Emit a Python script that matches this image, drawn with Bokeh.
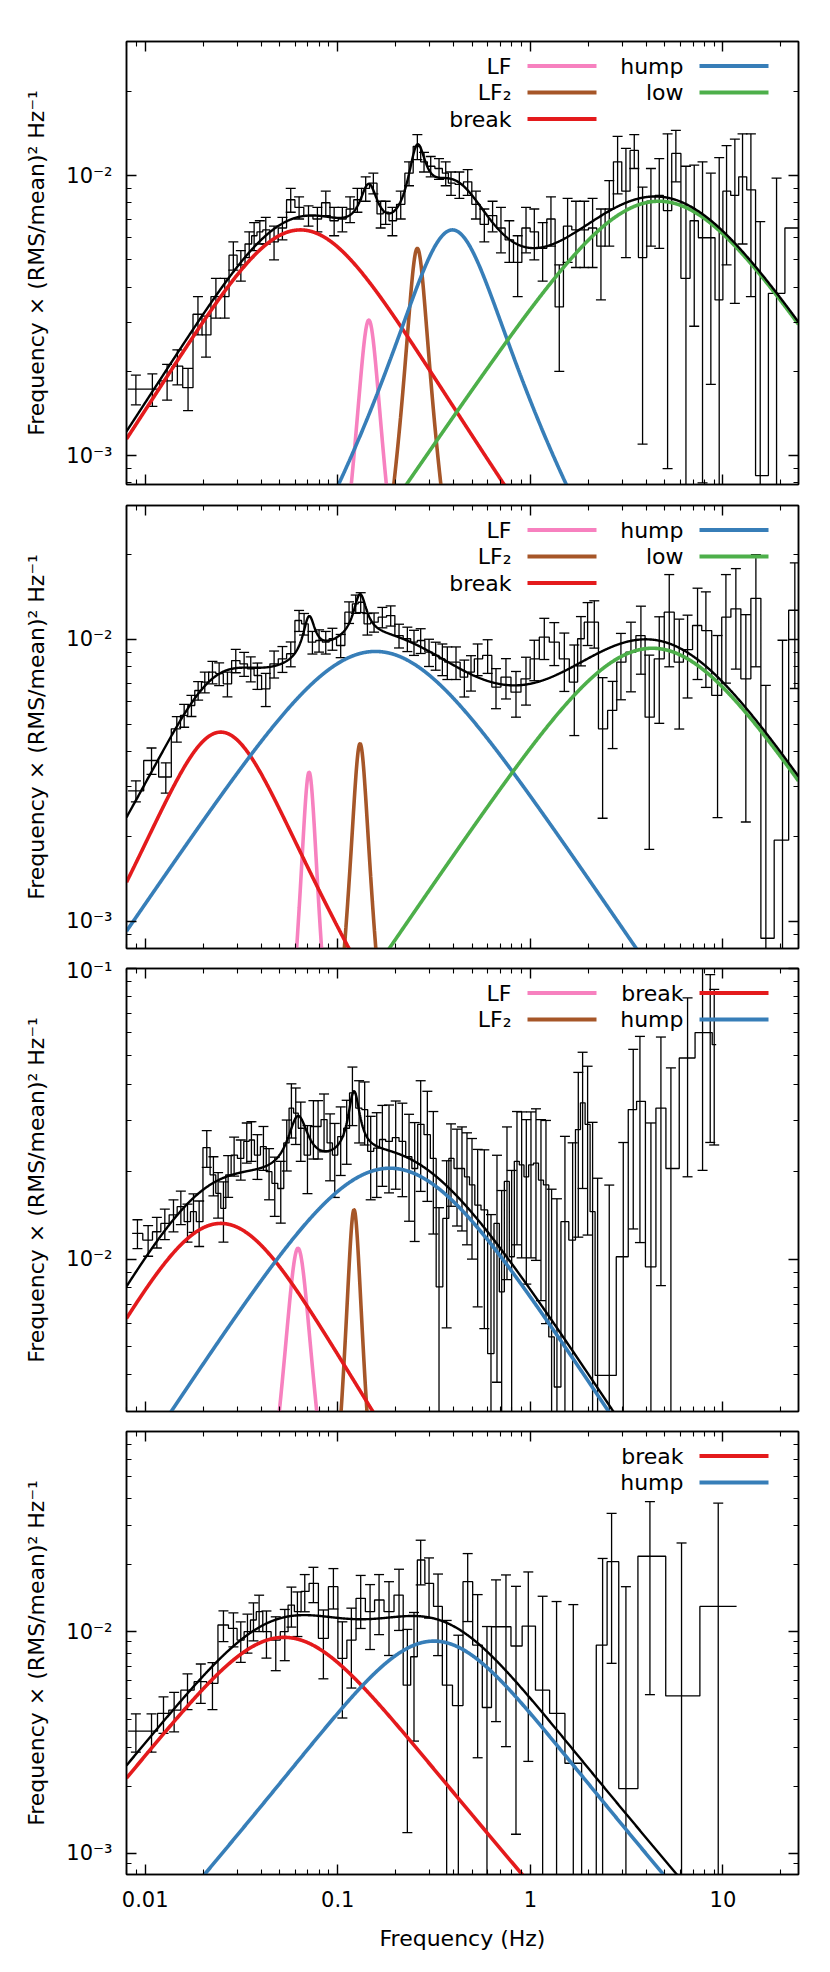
import numpy as np
from bokeh.plotting import figure
from bokeh.layouts import column
from bokeh.models import (Range1d, LogAxis, FixedTicker, CustomJSTickFormatter,
                          Label, BoxAnnotation)
from bokeh.embed import file_html
from bokeh.resources import INLINE

# ---------------- data: panel 1 ----------------
P1_FREQ = [0.00895, 0.0109, 0.0130, 0.0147, 0.0167, 0.0188, 0.0207, 0.0233, 0.0259, 0.0287,
           0.0314, 0.0347, 0.0368, 0.0394, 0.0423, 0.0467, 0.0516, 0.0570, 0.0630, 0.0705,
           0.0784, 0.0867, 0.0958, 0.1057, 0.1159, 0.1265, 0.1397, 0.1531, 0.1671, 0.1774,
           0.1922, 0.2124, 0.2345, 0.2591, 0.2806, 0.304, 0.3357, 0.3637, 0.3875, 0.428,
           0.473, 0.522, 0.577, 0.637, 0.704, 0.778, 0.860, 0.950, 1.049, 1.159,
           1.28, 1.414, 1.562, 1.726, 1.907, 2.106, 2.327, 2.571, 2.84, 3.137,
           3.466, 3.828, 4.23, 4.673, 5.163, 5.70, 6.43, 7.10, 7.84, 8.66,
           9.57, 10.45, 11.54, 12.65, 13.98, 15.63, 19.0, 23.2]
P1_POWER = [0.00173, 0.00173, 0.00185, 0.00209, 0.00175, 0.0032, 0.0027, 0.0037, 0.0037, 0.0052,
            0.0048, 0.0057, 0.0061, 0.0063, 0.0064, 0.0058, 0.0065, 0.0082, 0.0077, 0.0072,
            0.0070, 0.0080, 0.0069, 0.0070, 0.0076, 0.0082, 0.0090, 0.0094, 0.0073, 0.0074,
            0.0069, 0.0079, 0.0102, 0.0127, 0.0112, 0.0108, 0.0106, 0.0102, 0.0094, 0.0093,
            0.0095, 0.0079, 0.0067, 0.0072, 0.0065, 0.0059, 0.0049, 0.0065, 0.0063, 0.0055,
            0.0070, 0.0034, 0.0066, 0.0064, 0.0064, 0.0065, 0.0056, 0.0076, 0.0112, 0.0088,
            0.0123, 0.0051, 0.0081, 0.0085, 0.0075, 0.0120, 0.0043, 0.0069, 0.0060, 0.0060,
            0.0036, 0.0088, 0.0085, 0.0099, 0.0089, 0.00085, 0.0038, 0.0065]
P1_ERR = [0.00021, 0.00023, 0.00027, 0.0003, 0.0003, 0.0005, 0.00045, 0.0006, 0.0006, 0.0006,
          0.0006, 0.0006, 0.0007, 0.0006, 0.0007, 0.0008, 0.0006, 0.0008, 0.0007, 0.0006,
          0.0007, 0.0008, 0.0008, 0.0007, 0.0008, 0.0008, 0.0009, 0.0008, 0.0008, 0.0007,
          0.0008, 0.0009, 0.0010, 0.0013, 0.0009, 0.0009, 0.0009, 0.0010, 0.0009, 0.0010,
          0.0010, 0.0009, 0.0009, 0.0009, 0.0012, 0.0010, 0.0012, 0.0012, 0.0013, 0.0013,
          0.0014, 0.0014, 0.0017, 0.0017, 0.0017, 0.0018, 0.0020, 0.0020, 0.0026, 0.0037,
          0.0017, 0.0040, 0.0025, 0.0030, 0.0066, 0.0025, 0.0065, 0.0040, 0.0052, 0.0042,
          0.0080, 0.0040, 0.0050, 0.0042, 0.0052, 0.0060, 0.0060, 0.0]
P1_COMP_NAMES = ["LF", "LF₂", "break", "hump", "low"]
P1_COMP_FREQ = [0.145, 0.259, 0.064, 0.394, 4.65]
P1_COMP_PEAK = [0.00305, 0.0055, 0.0064, 0.0064, 0.0081]
P1_COMP_Q = [4.0, 4.3, 0.175, 0.8, 0.0]

# ---------------- data: panel 2 ----------------
P2_FREQ = [0.00895, 0.01079, 0.0128, 0.0146, 0.01594, 0.01739, 0.01884, 0.0204, 0.02236, 0.02422,
           0.02675, 0.02955, 0.03265, 0.03535, 0.03828, 0.04229, 0.04673, 0.05162, 0.05703, 0.06299,
           0.06688, 0.07388, 0.08, 0.08665, 0.09383, 0.1036, 0.1145, 0.124, 0.1316, 0.1426,
           0.1544, 0.1705, 0.1884, 0.2081, 0.2299, 0.2489, 0.2696, 0.2979, 0.3226, 0.3494,
           0.3708, 0.4113, 0.4544, 0.492, 0.5329, 0.6005, 0.6634, 0.7474, 0.8426, 0.9495,
           1.049, 1.182, 1.332, 1.502, 1.692, 1.832, 1.984, 2.149, 2.374, 2.675,
           2.955, 3.331, 3.753, 4.147, 4.673, 5.266, 5.935, 6.556, 7.387, 8.162,
           9.383, 10.37, 11.68, 13.16, 14.84, 16.72, 20.40, 23.64]
P2_POWER = [0.0029, 0.00372, 0.00325, 0.00482, 0.00538, 0.00583, 0.00659, 0.00706, 0.00766, 0.00756,
            0.00696, 0.00842, 0.0082, 0.00787, 0.00745, 0.00668, 0.0082, 0.00854, 0.0089, 0.01168,
            0.01137, 0.00978, 0.00992, 0.00978, 0.01006, 0.00952, 0.0125, 0.01338, 0.01356, 0.01137,
            0.01152, 0.012, 0.01216, 0.01033, 0.01006, 0.00978, 0.00992, 0.00902, 0.00878, 0.00854,
            0.00831, 0.00831, 0.00735, 0.00766, 0.00854, 0.00878, 0.00678, 0.00735, 0.0065, 0.00725,
            0.00854, 0.01019, 0.00978, 0.00854, 0.00706, 0.01006, 0.01152, 0.01152, 0.00482, 0.0056,
            0.00831, 0.00902, 0.01033, 0.0053, 0.00854, 0.0125, 0.00831, 0.0092, 0.01121, 0.01076,
            0.00633, 0.012, 0.01285, 0.00725, 0.014, 0.00087, 0.00194, 0.0127]
P2_ERR = [0.00025, 0.0004, 0.0004, 0.0005, 0.0005, 0.0005, 0.0005, 0.0006, 0.0007, 0.0007,
          0.0007, 0.0008, 0.0008, 0.0008, 0.0008, 0.0009, 0.0009, 0.0009, 0.0009, 0.0010,
          0.0010, 0.0009, 0.0009, 0.0009, 0.0009, 0.0009, 0.0011, 0.0010, 0.0011, 0.0010,
          0.0009, 0.0010, 0.0010, 0.0010, 0.0010, 0.0010, 0.0010, 0.0010, 0.0010, 0.0011,
          0.0011, 0.0011, 0.0011, 0.0011, 0.0011, 0.0012, 0.0011, 0.0012, 0.0012, 0.0014,
          0.0014, 0.0017, 0.0017, 0.0020, 0.0025, 0.0020, 0.0020, 0.0022, 0.0025, 0.0015,
          0.0022, 0.0025, 0.0028, 0.0035, 0.0035, 0.0045, 0.0035, 0.0030, 0.0040, 0.0040,
          0.0040, 0.0050, 0.0050, 0.0050, 0.0060, 0.0060, 0.0080, 0.0060]
P2_COMP_NAMES = ["LF", "LF₂", "break", "hump", "low"]
P2_COMP_FREQ = [0.071, 0.1306, 0.0247, 0.157, 4.30]
P2_COMP_PEAK = [0.00338, 0.00427, 0.00469, 0.00907, 0.00931]
P2_COMP_Q = [6.0, 5.5, 0.5, 0.0, 0.0]

# ---------------- data: panel 3 ----------------
P3_FREQ = [0.00912, 0.01036, 0.0115, 0.01265, 0.01403, 0.01532, 0.01659, 0.01782, 0.01907, 0.02089,
           0.02262, 0.02392, 0.0255, 0.02697, 0.02897, 0.03137, 0.0337, 0.03563, 0.03828, 0.04113,
           0.044, 0.0471, 0.0506, 0.05436, 0.05747, 0.06053, 0.06427, 0.06963, 0.07476, 0.07905,
           0.08491, 0.09126, 0.0965, 0.1036, 0.1113, 0.1192, 0.1291, 0.138, 0.1483, 0.1594,
           0.1705, 0.1846, 0.2, 0.2166, 0.2346, 0.251, 0.2696, 0.292, 0.3136, 0.3357, 0.3678,
           0.3875, 0.4163, 0.4417, 0.469, 0.498, 0.5329, 0.577, 0.6249, 0.6714, 0.71,
           0.7567, 0.8001, 0.8527, 0.9016, 0.9533, 1.008, 1.070, 1.136, 1.206, 1.29,
           1.375, 1.513, 1.659, 1.775, 1.869, 1.984, 2.106, 2.236, 2.570, 3.039,
           3.424, 3.709, 4.23, 4.767, 5.372, 6.556, 7.843, 8.596, 9.016]
P3_POWER = [0.01226, 0.01163, 0.01242, 0.01327, 0.0142, 0.01515, 0.01345, 0.01456, 0.01345, 0.0242,
            0.0195, 0.01684, 0.01495, 0.0195, 0.0228, 0.0222, 0.0254, 0.0257, 0.0228, 0.0244,
            0.020, 0.01823, 0.0175, 0.0251, 0.0331, 0.0318, 0.0282, 0.0228, 0.0286, 0.0286,
            0.0302, 0.0251, 0.0228, 0.0264, 0.0282, 0.0373, 0.0331, 0.0327, 0.0235, 0.0241,
            0.0258, 0.0254, 0.0262, 0.0254, 0.0225, 0.0205, 0.0291, 0.0268, 0.0222, 0.00803, 0.0138,
            0.0222, 0.0205, 0.0205, 0.0192, 0.018, 0.01535, 0.01477, 0.00473, 0.01327, 0.00772,
            0.0185, 0.01019, 0.0217, 0.0211, 0.0192, 0.0211, 0.0214, 0.0187, 0.018, 0.0054,
            0.00363, 0.01345, 0.01163, 0.0279, 0.0345, 0.0291, 0.01456, 0.00398, 0.00398, 0.01019,
            0.0327, 0.0349, 0.00941, 0.0331, 0.0205, 0.0492, 0.0602, 0.0602, 0.0547]
P3_ERR = [0.0014, 0.0014, 0.0015, 0.0016, 0.0018, 0.0020, 0.0020, 0.0022, 0.0024, 0.0035,
          0.0030, 0.0030, 0.0035, 0.0032, 0.0035, 0.0035, 0.0040, 0.0040, 0.0040, 0.0042,
          0.0040, 0.0042, 0.0042, 0.0050, 0.0070, 0.0070, 0.0065, 0.0060, 0.0065, 0.0065,
          0.0068, 0.0065, 0.0065, 0.0070, 0.0070, 0.0085, 0.0080, 0.0080, 0.0075, 0.0078,
          0.0080, 0.0085, 0.0088, 0.0090, 0.0090, 0.0090, 0.0120, 0.0110, 0.0100, 0.0070, 0.0080,
          0.0070, 0.0075, 0.0080, 0.0080, 0.0080, 0.0085, 0.0090, 0.0095, 0.0095, 0.0095,
          0.0100, 0.0100, 0.0105, 0.0110, 0.0110, 0.0110, 0.0115, 0.0115, 0.0120, 0.0120,
          0.0125, 0.0130, 0.0135, 0.0160, 0.0170, 0.0170, 0.0150, 0.0150, 0.0140, 0.0150,
          0.0200, 0.0235, 0.0200, 0.0250, 0.0250, 0.0300, 0.0400, 0.0350, 0.0300]
P3_COMP_NAMES = ["LF", "LF₂", "break", "hump"]
P3_COMP_FREQ = [0.0622, 0.1215, 0.0247, 0.1866]
P3_COMP_PEAK = [0.0109, 0.0148, 0.01327, 0.02055]
P3_COMP_Q = [3.6, 6.4, 0.2, 0.0]

# ---------------- data: panel 4 ----------------
P4_FREQ = [0.00895, 0.01079, 0.01245, 0.01414, 0.01659, 0.01945, 0.02236, 0.0255, 0.02873, 0.03137,
           0.03398, 0.03651, 0.03906, 0.04264, 0.04767, 0.05309, 0.05747, 0.06174, 0.06742, 0.07476,
           0.08424, 0.09495, 0.1057, 0.1177, 0.1316, 0.1472, 0.1639, 0.1846, 0.2081, 0.2299,
           0.2489, 0.2696, 0.2979, 0.3318, 0.3678,
           0.4229, 0.473, 0.5329, 0.5956, 0.6634, 0.7474, 0.8426, 0.9763, 1.159, 1.369,
           1.672, 2.04, 2.374, 2.643, 3.137, 4.18, 6.10, 9.46]
P4_POWER = [0.00356, 0.00356, 0.00428, 0.00443, 0.00545, 0.00595, 0.00585, 0.01072, 0.01035, 0.00917,
            0.0100, 0.01129, 0.01231, 0.0100, 0.00917, 0.0100, 0.01319, 0.01231, 0.0152, 0.01652,
            0.00933, 0.01596, 0.00758, 0.00917, 0.01414, 0.01231, 0.0139, 0.01231, 0.01463, 0.00574,
            0.00771, 0.02106, 0.01652, 0.0130, 0.00574,
            0.00464, 0.01681, 0.0087, 0.00455, 0.01053, 0.01053, 0.00862, 0.0106, 0.00545, 0.00428,
            0.00255, 0.0003, 0.0087, 0.0207, 0.00196, 0.0219, 0.00513, 0.0130]
P4_ERR = [0.0007, 0.0007, 0.0008, 0.0009, 0.0010, 0.0012, 0.0014, 0.0017, 0.0018, 0.0019,
          0.0020, 0.0022, 0.0023, 0.0024, 0.0025, 0.0026, 0.0027, 0.0028, 0.0029, 0.0030,
          0.0032, 0.0033, 0.0035, 0.0036, 0.0038, 0.0040, 0.0042, 0.0045, 0.0045, 0.0045,
          0.0045, 0.0048, 0.0050, 0.0052, 0.0055,
          0.0050, 0.0057, 0.0060, 0.0060, 0.0066, 0.0075, 0.0074, 0.0080, 0.0090, 0.0094,
          0.0107, 0.0003, 0.0127, 0.0135, 0.0140, 0.0167, 0.0200, 0.0250]
P4_COMP_NAMES = ["break", "hump"]
P4_COMP_FREQ = [0.0526, 0.316]
P4_COMP_PEAK = [0.00943, 0.00907]
P4_COMP_Q = [0.15, 0.18]

# ---------------- layout / style ----------------
X_START, X_END = 0.008, 24.7
FONT = "DejaVu Sans"
BORDER_L, BORDER_R, FRAME_W, FRAME_H = 126, 24, 672, 443
COMP_COLORS = {"LF": "#f781bf", "LF₂": "#a65628", "break": "#e41a1c",
               "hump": "#377eb8", "low": "#4daf4a"}

X_MAJOR = [0.01, 0.1, 1, 10]
X_MINOR = [m * 10.0 ** k for k in range(-3, 2) for m in range(2, 10)]
Y_MAJOR = [1e-4, 1e-3, 1e-2, 1e-1, 1.0]
Y_MINOR = [m * 10.0 ** k for k in range(-4, 0) for m in range(2, 10)]

YLABEL = "Frequency × (RMS/mean)² Hz⁻¹"

POW_FMT = CustomJSTickFormatter(code="""
const sup = {'-': '\u207b', '0': '\u2070', '1': '\u00b9', '2': '\u00b2', '3': '\u00b3', '4': '\u2074'};
const e = Math.round(Math.log10(tick));
return '10' + String(e).split('').map(c => sup[c]).join('');
""")
NUM_FMT = CustomJSTickFormatter(code="return String(parseFloat(tick.toPrecision(4)));")
BLANK_FMT = CustomJSTickFormatter(code="return '';")

MODEL_NU = np.logspace(np.log10(X_START), np.log10(X_END), 1600)


def lorentzian(nu, nu_max, peak, q):
    delta = nu_max / np.sqrt(1.0 + 4.0 * q * q)
    nu0 = 2.0 * q * delta
    shape = nu / (delta ** 2 + (nu - nu0) ** 2)
    ref = nu_max / (delta ** 2 + (nu_max - nu0) ** 2)
    return peak * shape / ref


def step_path(freq, power):
    lc = np.log10(np.asarray(freq, dtype=float))
    mids = 0.5 * (lc[:-1] + lc[1:])
    edges = np.concatenate([[2 * lc[0] - mids[0]], mids, [2 * lc[-1] - mids[-1]]])
    xs, ys = [], []
    for i, v in enumerate(power):
        xs += [10 ** edges[i], 10 ** edges[i + 1]]
        ys += [v, v]
    return xs, ys


def style_axis(ax, ticks, minor, fmt, standoff, label_size="21px"):
    ax.ticker = FixedTicker(ticks=ticks, minor_ticks=minor)
    ax.formatter = fmt
    ax.major_tick_in = 10
    ax.major_tick_out = 0
    ax.minor_tick_in = 5
    ax.minor_tick_out = 0
    ax.major_tick_line_width = 1.4
    ax.minor_tick_line_width = 1.1
    ax.major_tick_line_color = "black"
    ax.minor_tick_line_color = "black"
    ax.axis_line_width = 1.5
    ax.axis_line_color = "black"
    ax.major_label_text_font = FONT
    ax.major_label_text_font_size = label_size
    ax.major_label_text_color = "black"
    ax.major_label_standoff = standoff
    ax.axis_label_text_font = FONT
    ax.axis_label_text_font_size = "22px"
    ax.axis_label_text_font_style = "normal"
    ax.axis_label_text_color = "black"


def build_panel(freq, power, err, names, cfreq, cpeak, cq, y_lo, y_hi,
                top, bottom, legend_slots, x_labels):
    p = figure(width=BORDER_L + FRAME_W + BORDER_R, height=top + FRAME_H + bottom,
               x_axis_type="log", y_axis_type="log",
               x_range=Range1d(X_START, X_END), y_range=Range1d(y_lo, y_hi),
               output_backend="svg", toolbar_location=None,
               min_border_left=BORDER_L, min_border_right=BORDER_R,
               min_border_top=top, min_border_bottom=bottom)
    p.grid.visible = False
    p.outline_line_color = "black"
    p.outline_line_width = 1.5
    p.background_fill_color = "white"
    p.border_fill_color = "white"

    top_ax = LogAxis()
    right_ax = LogAxis()
    p.add_layout(top_ax, "above")
    p.add_layout(right_ax, "right")

    style_axis(p.left[0], Y_MAJOR, Y_MINOR, POW_FMT, 14)
    p.left[0].axis_label = YLABEL
    p.left[0].axis_label_standoff = 14
    style_axis(right_ax, Y_MAJOR, Y_MINOR, BLANK_FMT, 0, "0px")
    style_axis(top_ax, X_MAJOR, X_MINOR, BLANK_FMT, 0, "0px")
    if x_labels:
        style_axis(p.below[0], X_MAJOR, X_MINOR, NUM_FMT, 16)
        p.below[0].axis_label = "Frequency (Hz)"
        p.below[0].axis_label_standoff = 16
    else:
        style_axis(p.below[0], X_MAJOR, X_MINOR, BLANK_FMT, 0, "0px")

    # data histogram
    xs, ys = step_path(freq, power)
    p.line(xs, ys, line_color="black", line_width=1.3)
    f = np.asarray(freq, dtype=float)
    v = np.asarray(power, dtype=float)
    e = np.asarray(err, dtype=float)
    hi = v + e
    lo = np.where(v - e > 0, v - e, 1e-7)
    has = e > 0
    p.segment(x0=f[has], y0=lo[has], x1=f[has], y1=hi[has], line_color="black", line_width=1.3)
    p.scatter(x=f[has], y=hi[has], marker="dash", size=10, line_color="black", line_width=1.3)
    p.scatter(x=f[has], y=lo[has], marker="dash", size=10, line_color="black", line_width=1.3)

    # model components
    total = np.zeros_like(MODEL_NU)
    for n, cf, cp, qq in zip(names, cfreq, cpeak, cq):
        comp = lorentzian(MODEL_NU, cf, cp, qq)
        total += comp
        p.line(MODEL_NU, comp, line_color=COMP_COLORS[n], line_width=3.6)
    p.line(MODEL_NU, total, line_color="black", line_width=2.4)

    # legend (drawn as annotations, matplotlib style: text then line sample)
    lx0, lx1 = np.log10(X_START), np.log10(X_END)
    ly0, ly1 = np.log10(y_lo), np.log10(y_hi)

    def xd(page_x):
        return 10 ** (lx0 + (page_x - BORDER_L) / FRAME_W * (lx1 - lx0))

    def yd(dy):
        return 10 ** (ly1 - dy / FRAME_H * (ly1 - ly0))

    text_right = [511, 683]
    sample = [(527, 596), (699, 768)]
    rows = [24.5, 51.0, 77.5]
    for n, col, row in legend_slots:
        dy = rows[row]
        p.add_layout(Label(x=xd(text_right[col]), y=yd(dy), text=n,
                           text_align="right", text_baseline="middle",
                           text_font=FONT, text_font_size="22px", text_color="black"))
        p.add_layout(BoxAnnotation(left=xd(sample[col][0]), right=xd(sample[col][1]),
                                   bottom=yd(dy + 2.0), top=yd(dy - 2.0),
                                   fill_color=COMP_COLORS[n], fill_alpha=1.0,
                                   line_alpha=0.0))
    return p


LEG_5 = [("LF", 0, 0), ("LF₂", 0, 1), ("break", 0, 2), ("hump", 1, 0), ("low", 1, 1)]
LEG_4 = [("LF", 0, 0), ("LF₂", 0, 1), ("break", 1, 0), ("hump", 1, 1)]
LEG_2 = [("break", 1, 0), ("hump", 1, 1)]

p1 = build_panel(P1_FREQ, P1_POWER, P1_ERR, P1_COMP_NAMES, P1_COMP_FREQ, P1_COMP_PEAK, P1_COMP_Q,
                 0.00079, 0.0301, 41, 11, LEG_5, False)
p2 = build_panel(P2_FREQ, P2_POWER, P2_ERR, P2_COMP_NAMES, P2_COMP_FREQ, P2_COMP_PEAK, P2_COMP_Q,
                 0.0008, 0.0299, 10, 10, LEG_5, False)
p3 = build_panel(P3_FREQ, P3_POWER, P3_ERR, P3_COMP_NAMES, P3_COMP_FREQ, P3_COMP_PEAK, P3_COMP_Q,
                 0.00299, 0.1, 10, 10, LEG_4, False)
p4 = build_panel(P4_FREQ, P4_POWER, P4_ERR, P4_COMP_NAMES, P4_COMP_FREQ, P4_COMP_PEAK, P4_COMP_Q,
                 0.000803, 0.080, 10, 90, LEG_2, True)

layout = column(p1, p2, p3, p4, spacing=0)

with open("out.html", "w", encoding="utf-8") as fh:
    fh.write(file_html(layout, INLINE))
